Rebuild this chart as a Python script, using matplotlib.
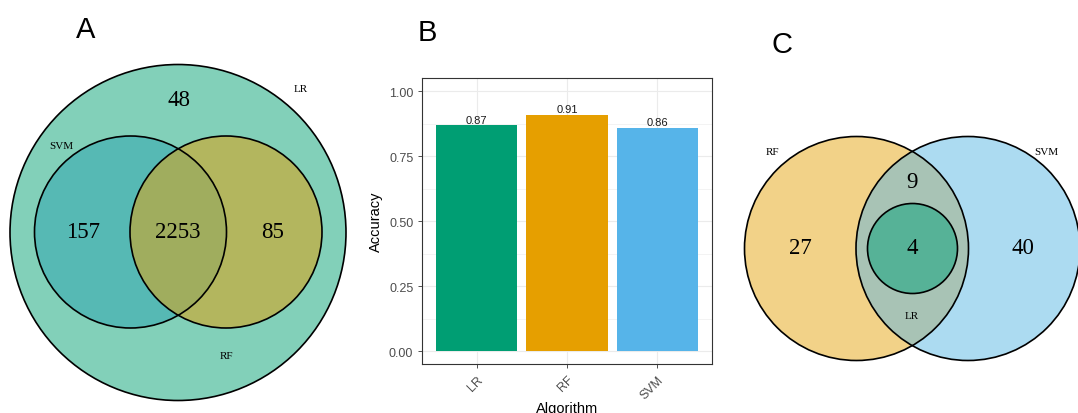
import matplotlib.pyplot as plt
from matplotlib.patches import Circle
import numpy as np

# panel A: genes selected by each model (LR contains SVM and RF)
venn_a_labels = ["LR", "SVM", "RF"]
venn_a_counts = {"LR_only": 48, "SVM_only": 157, "SVM_RF": 2253, "RF_only": 85}

# panel B: accuracy
algorithms = ["LR", "RF", "SVM"]
accuracy = [0.87, 0.91, 0.86]
bar_colors = ["#009E73", "#E69F00", "#56B4E9"]

# panel C: overlap of model hits (LR inside RF & SVM)
venn_c_labels = ["RF", "SVM", "LR"]
venn_c_counts = {"RF_only": 27, "RF_SVM": 9, "LR": 4, "SVM_only": 40}

W, H = 1078, 414
fig = plt.figure(figsize=(W / 100, H / 100), dpi=100)

# overlay axes in pixel coordinates for the Venn panels
ov = fig.add_axes([0, 0, 1, 1])
ov.set_xlim(0, W)
ov.set_ylim(H, 0)
ov.axis("off")

serif = "Liberation Serif"
sans = "Liberation Sans"
num_kw = dict(fontsize=16.5, family=serif, ha="center", va="center", zorder=5)
lab_kw = dict(fontsize=8, family=serif, ha="center", va="center", zorder=5)

# ---- panel A ----
outer = Circle((178, 233.5), 168, facecolor="#82d0b9", edgecolor="black", lw=1.2, zorder=1)
svm = Circle((130.5, 233), 96, facecolor="#56b9b4", edgecolor="none", zorder=2)
rf = Circle((226, 233), 96, facecolor="#b3b65e", edgecolor="none", zorder=2)
for p in (outer, svm, rf):
    ov.add_patch(p)
lens = Circle((226, 233), 96, facecolor="#a0ad5e", edgecolor="none", zorder=3)
ov.add_patch(lens)
lens.set_clip_path(svm)
for c in ((130.5, 233), (226, 233)):
    ov.add_patch(Circle(c, 96, facecolor="none", edgecolor="black", lw=1.2, zorder=4))

ov.text(179, 101, str(venn_a_counts["LR_only"]), **num_kw)
ov.text(83, 233, str(venn_a_counts["SVM_only"]), **num_kw)
ov.text(178, 233, str(venn_a_counts["SVM_RF"]), **num_kw)
ov.text(273, 233, str(venn_a_counts["RF_only"]), **num_kw)
ov.text(301, 90, venn_a_labels[0], **lab_kw)
ov.text(61, 147, venn_a_labels[1], **lab_kw)
ov.text(226, 357, venn_a_labels[2], **lab_kw)

# ---- panel C ----
rf_c = Circle((856.5, 249.5), 112, facecolor="#f2d288", edgecolor="none", zorder=1)
svm_c = Circle((968, 249.5), 112, facecolor="#acdbf1", edgecolor="none", zorder=1)
ov.add_patch(rf_c)
ov.add_patch(svm_c)
lens_c = Circle((968, 249.5), 112, facecolor="#a8c3b5", edgecolor="none", zorder=2)
ov.add_patch(lens_c)
lens_c.set_clip_path(rf_c)
for c in ((856.5, 249.5), (968, 249.5)):
    ov.add_patch(Circle(c, 112, facecolor="none", edgecolor="black", lw=1.2, zorder=4))
ov.add_patch(Circle((912.5, 249.5), 45, facecolor="#56b297", edgecolor="black", lw=1.2, zorder=4))

ov.text(800, 249, str(venn_c_counts["RF_only"]), **num_kw)
ov.text(912, 183, str(venn_c_counts["RF_SVM"]), **num_kw)
ov.text(912, 249, str(venn_c_counts["LR"]), **num_kw)
ov.text(1023, 249, str(venn_c_counts["SVM_only"]), **num_kw)
ov.text(773, 153, venn_c_labels[0], **lab_kw)
ov.text(1046, 153, venn_c_labels[1], **lab_kw)
ov.text(912, 317, venn_c_labels[2], **lab_kw)

# panel letters
for letter, x, y in (("A", 86, 30), ("B", 427, 33), ("C", 782, 45)):
    ov.text(x, y, letter, fontsize=21, family=sans, ha="center", va="center")

# ---- panel B: bar chart ----
left, right, top, bottom = 422.3, 711.7, 79.3, 365
ax = fig.add_axes([left / W, (H - bottom) / H, (right - left) / W, (bottom - top) / H])
x = np.arange(1, len(algorithms) + 1)
ax.bar(x, accuracy, width=0.9, color=bar_colors, zorder=2)
for xi, v in zip(x, accuracy):
    ax.text(xi, v + 0.002, f"{v:.2f}", ha="center", va="bottom", fontsize=8, family=sans, color="#1a1a1a", zorder=3)

ax.set_xlim(0.4, 3.6)
ax.set_ylim(-0.05, 1.05)
ax.set_xticks(x)
ax.set_xticklabels(algorithms, rotation=45, ha="right", rotation_mode="anchor", family=sans, fontsize=9, color="#4d4d4d")
ax.set_yticks([0, 0.25, 0.5, 0.75, 1.0])
ax.set_yticklabels(["0.00", "0.25", "0.50", "0.75", "1.00"], family=sans, fontsize=9, color="#4d4d4d")
ax.set_yticks([0.125, 0.375, 0.625, 0.875], minor=True)
ax.tick_params(axis="both", which="major", length=3, color="#333333", width=0.6)
ax.tick_params(axis="y", which="minor", length=0)
ax.grid(which="major", color="#ebebeb", lw=0.8, zorder=0)
ax.grid(which="minor", axis="y", color="#ebebeb", lw=0.4, zorder=0)
ax.set_axisbelow(True)
for s in ax.spines.values():
    s.set_color("#333333")
    s.set_linewidth(0.8)
ax.set_ylabel("Accuracy", family=sans, fontsize=10.5)
ax.set_xlabel("Algorithm", family=sans, fontsize=10.5, labelpad=0)

fig.savefig("out.png", dpi=100)
